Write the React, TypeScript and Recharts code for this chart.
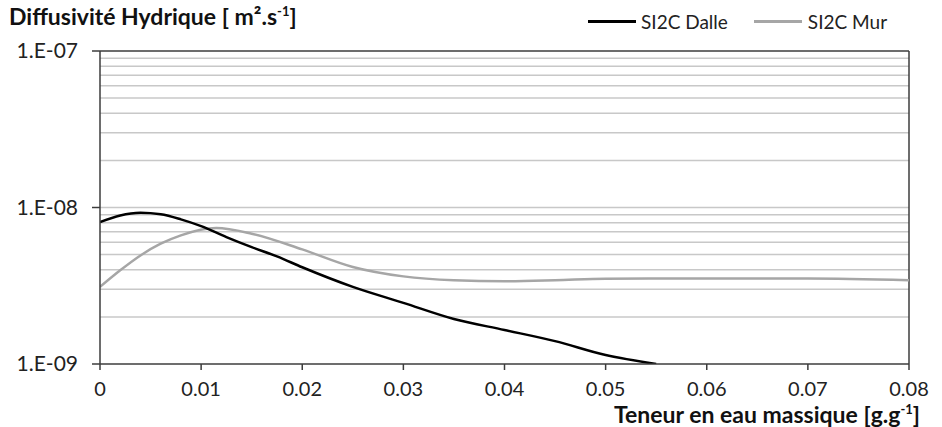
import React from "react"
import { LineChart, Line, XAxis, YAxis, ReferenceLine } from "recharts"

// SI2C Dalle (black)
const dalleX = [0, 0.002, 0.004, 0.006, 0.008, 0.01, 0.0125, 0.015, 0.0175, 0.02, 0.025, 0.03, 0.035, 0.04, 0.045, 0.05, 0.055]
const dalleY = [8.06e-9, 8.9e-9, 9.25e-9, 9.05e-9, 8.4e-9, 7.6e-9, 6.47e-9, 5.58e-9, 4.87e-9, 4.15e-9, 3.11e-9, 2.46e-9, 1.94e-9, 1.65e-9, 1.4e-9, 1.14e-9, 1.0e-9]

// SI2C Mur (gray)
const murX = [0, 0.002, 0.004, 0.006, 0.008, 0.0115, 0.015, 0.02, 0.025, 0.03, 0.035, 0.04, 0.045, 0.05, 0.06, 0.07, 0.08]
const murY = [3.11e-9, 3.97e-9, 4.94e-9, 5.87e-9, 6.64e-9, 7.39e-9, 6.8e-9, 5.4e-9, 4.17e-9, 3.63e-9, 3.43e-9, 3.38e-9, 3.43e-9, 3.51e-9, 3.52e-9, 3.52e-9, 3.43e-9]

const xTicks = [0, 0.01, 0.02, 0.03, 0.04, 0.05, 0.06, 0.07, 0.08]
const yTicks = [1e-9, 1e-8, 1e-7]
const minorGrid = [2, 3, 4, 5, 6, 7, 8, 9].flatMap((m) => [m * 1e-9, m * 1e-8]).concat([1e-8])

const dalleData = dalleX.map((x, i) => ({ x, v: dalleY[i] }))
const murData = murX.map((x, i) => ({ x, v: murY[i] }))

const FONT = "Lato, 'Open Sans', sans-serif"
const AXIS = "#3c3c3c"

const fmtY = (v: number) => "1.E-" + String(Math.round(-Math.log10(v))).padStart(2, "0")

export default function App() {
  return (
    <div style={{ position: "absolute", left: 0, top: 0, width: 942, height: 427, fontFamily: FONT, background: "#fff" }}>
      <div style={{ position: "absolute", left: 9, top: 2, fontSize: 23, fontWeight: 700, color: "#111", whiteSpace: "nowrap" }}>
        Diffusivité Hydrique [ m².s<sup style={{ fontSize: 13 }}>-1</sup>]
      </div>
      <div style={{ position: "absolute", left: 588, top: 10, fontSize: 19, color: "#222", display: "flex", alignItems: "center", whiteSpace: "nowrap" }}>
        <span style={{ display: "inline-block", width: 48, height: 2.5, background: "#000", marginRight: 5 }} />
        <span>SI2C Dalle</span>
        <span style={{ display: "inline-block", width: 48, height: 2.5, background: "#a6a6a6", marginLeft: 26, marginRight: 6 }} />
        <span>SI2C Mur</span>
      </div>
      <LineChart width={942} height={427} data={dalleData} margin={{ top: 51, right: 33, bottom: 33, left: 0 }}>
        {minorGrid.map((g) => (
          <ReferenceLine key={g} y={g} stroke="#c8c8c8" strokeWidth={1.5} />
        ))}
        <ReferenceLine y={1e-7} stroke={AXIS} strokeWidth={1.5} />
        <ReferenceLine x={0.08} stroke={AXIS} strokeWidth={1.5} />
        <XAxis
          dataKey="x"
          type="number"
          domain={[0, 0.08]}
          ticks={xTicks}
          allowDataOverflow
          stroke={AXIS}
          strokeWidth={1.5}
          tickSize={6}
          height={30}
          tick={{ fill: "#222", fontSize: 20, fontFamily: FONT, dy: 10 }}
          tickFormatter={(v: number) => String(Number(v.toFixed(2)))}
        />
        <YAxis
          type="number"
          scale="log"
          domain={[1e-9, 1e-7]}
          ticks={yTicks}
          allowDataOverflow
          width={100}
          stroke={AXIS}
          strokeWidth={1.5}
          tickSize={8}
          tick={{ fill: "#222", fontSize: 21, fontFamily: FONT, dx: -12 }}
          tickFormatter={fmtY}
        />
        <Line data={murData} dataKey="v" type="monotone" stroke="#a6a6a6" strokeWidth={2.5} dot={false} isAnimationActive={false} />
        <Line data={dalleData} dataKey="v" type="monotone" stroke="#000" strokeWidth={2.5} dot={false} isAnimationActive={false} />
      </LineChart>
      <div style={{ position: "absolute", left: 614, top: 403, fontSize: 23, fontWeight: 700, color: "#111", whiteSpace: "nowrap", lineHeight: "23px" }}>
        Teneur en eau massique [g.g<sup style={{ fontSize: 13, lineHeight: 0 }}>-1</sup>]
      </div>
    </div>
  )
}
